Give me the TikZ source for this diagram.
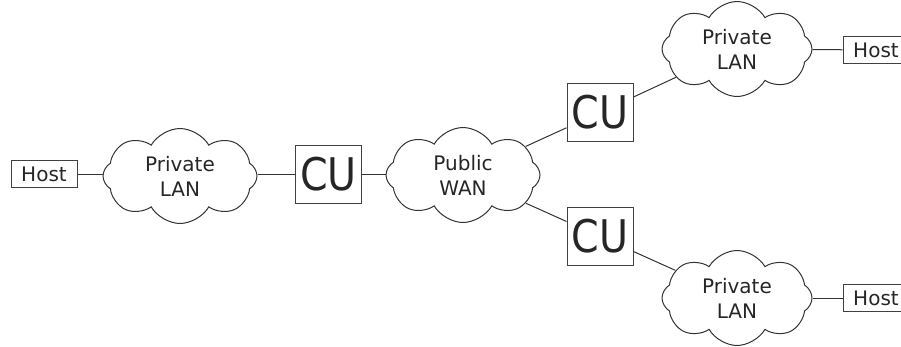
\documentclass[tikz,border=0pt]{standalone}
\usepackage{fontspec}
\setmainfont{DejaVu Sans}
\usetikzlibrary{shapes.symbols}

\tikzset{
  hostbox/.style={draw=black!75,line width=1pt,minimum width=66pt,minimum height=27pt,inner sep=0pt,font=\fontsize{20}{20}\selectfont},
  cubox/.style={draw=black!75,line width=1pt,minimum width=66pt,minimum height=58pt,inner sep=0pt,font=\fontsize{45}{45}\selectfont},
  net/.style={cloud,cloud puffs=8,cloud puff arc=120,aspect=1.6,draw=black!80,line width=1pt,minimum width=154pt,minimum height=95pt,inner sep=0pt,align=center,font=\fontsize{20}{25}\selectfont},
  link/.style={draw=black!80,line width=1pt}
}

\begin{document}
\begin{tikzpicture}[x=1pt,y=-1pt,text=black!85]
    %\draw[help lines] (0,0) grid (901,346);
       \clip (0,0) rectangle (901,346);
       \node[hostbox] (hostL) at (44,174) {Host};
       \node[net] (lanL) at (180,176) {Private\\LAN};
       \node[cubox] (cuL) at (328.5,174) {\scalebox{0.88}[1]{CU}};
       \node[net] (wan) at (463,175) {Public\\WAN};
       \node[cubox] (cuT) at (600,112.5) {\scalebox{0.88}[1]{CU}};
       \node[cubox] (cuB) at (600,236.5) {\scalebox{0.88}[1]{CU}};
       \node[net,minimum width=150pt] (lanT) at (737,49) {Private\\LAN};
       \node[net,minimum width=150pt] (lanB) at (737,298) {Private\\LAN};
       \node[hostbox] (hostT) at (876,50) {Host};
       \node[hostbox] (hostB) at (876,298) {Host};
       \draw[link] (hostL) -- (hostL -| lanL.west);
       \draw[link] (lanL.east |- cuL) -- (cuL);
       \draw[link] (cuL) -- (cuL -| wan.west);
       \draw[link] (wan) -- (cuT);
       \draw[link] (wan) -- (cuB);
       \draw[link] (cuT) -- (lanT);
       \draw[link] (cuB) -- (lanB);
       \draw[link] (lanT) -- (hostT);
       \draw[link] (lanB) -- (hostB);
\end{tikzpicture}
\end{document}
